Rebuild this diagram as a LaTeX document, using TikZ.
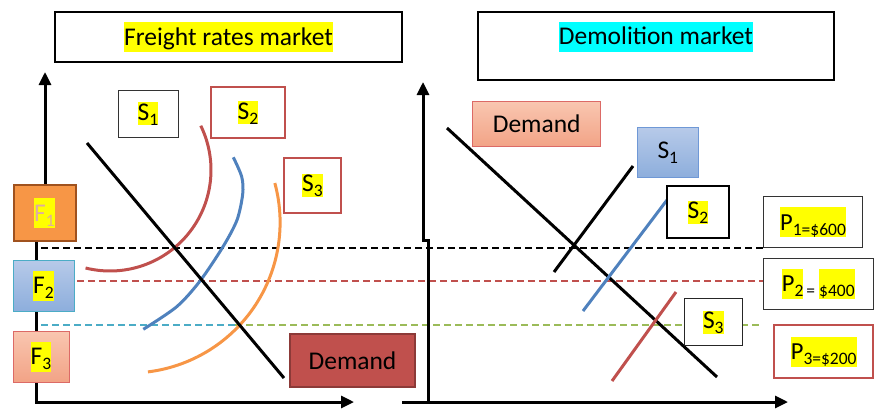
\documentclass[tikz,border=0pt]{standalone}
\usepackage{fontspec}
\setmainfont{Carlito}
\usetikzlibrary{arrows.meta}
\definecolor{redc}{HTML}{C0504D}
\definecolor{bluec}{HTML}{4F81BD}
\definecolor{orangec}{HTML}{F79646}
\definecolor{cyanc}{HTML}{4BACC6}
\definecolor{greenc}{HTML}{9BBB59}
\definecolor{hlcyan}{RGB}{0,255,255}
\definecolor{hlyellow}{RGB}{255,255,0}
\definecolor{fpale}{RGB}{222,172,162}
\definecolor{fonebrd}{HTML}{A0521E}
\definecolor{demdark}{HTML}{8C3A38}
\definecolor{salmontop}{HTML}{F9C6B0}
\definecolor{salmonbot}{HTML}{F2A386}
\definecolor{salmonbrd}{HTML}{DC6A66}
\definecolor{ltbluetop}{HTML}{B7CAE9}
\definecolor{ltbluebot}{HTML}{8DAEDC}
\definecolor{sonebrd}{HTML}{6F98D6}
\newcommand{\hl}[1]{{\setlength{\fboxsep}{0pt}\colorbox{hlyellow}{#1}}}
\newcommand{\hlc}[1]{{\setlength{\fboxsep}{0pt}\colorbox{hlcyan}{#1}}}
\newcommand{\hstrut}{\rule[-7pt]{0pt}{30pt}}
\newcommand{\sstrut}{\rule[-5pt]{0pt}{23pt}}
\newcommand{\lowsub}[1]{\raisebox{-5pt}{\fontsize{17.5}{17.5}\selectfont #1}}
\begin{document}
\begin{tikzpicture}[x=1pt,y=-1pt,
  axisline/.style={line width=3pt,-{Triangle[length=13pt,width=12pt]}},
  box/.style={draw,rectangle,inner sep=0pt,font=\fontsize{25.5}{30}\selectfont},
  pbox/.style={draw,rectangle,inner sep=0pt,font=\fontsize{24.5}{29}\selectfont},
  curve/.style={line width=3pt},
  dline/.style={line width=1.5pt,dash pattern=on 7pt off 4pt},
  tline/.style={line width=1.2pt,dash pattern=on 7pt off 4pt}]
\useasboundingbox (0,0) rectangle (875,408);

% coordinates
\coordinate (LAtop) at (45,72);
\coordinate (LAmid) at (45,186);
\coordinate (LA1) at (36,242);
\coordinate (LA2) at (36,402);
\coordinate (LA3) at (354,402);
\coordinate (RA1) at (428,402);
\coordinate (RA2) at (428,240);
\coordinate (RA3) at (423,240);
\coordinate (RAtop) at (423,82);
\coordinate (RH1) at (402,402);
\coordinate (RH2) at (788,402);

\coordinate (BK1) at (41,248);
\coordinate (BK2) at (763,248);
\coordinate (RD1) at (77,281);
\coordinate (RD2) at (763,281);
\coordinate (BL1) at (41,325);
\coordinate (BL2) at (235,325);
\coordinate (GR2) at (762,325);

\coordinate (LD1) at (87,143);
\coordinate (LD2) at (284,378);
\coordinate (RD1a) at (447,128);
\coordinate (RD2a) at (717,377);
\coordinate (RS1a) at (633,166);
\coordinate (RS1b) at (554,272);
\coordinate (RS2a) at (667,200);
\coordinate (RS2b) at (583,311);
\coordinate (RS3a) at (676,292);
\coordinate (RS3b) at (612,381);

% dashed price lines
\draw[dline,black] (BK1) -- (BK2);
\draw[dline,redc] (RD1) -- (RD2);
\draw[tline,cyanc] (BL1) -- (BL2);
\draw[tline,greenc] (BL2) -- (GR2);

% axes
\draw[axisline] (LAmid) -- (LAtop);
\draw[axisline] (LA1) -- (LA2) -- (LA3);
\draw[axisline] (RA1) -- (RA2) -- (RA3) -- (RAtop);
\draw[axisline] (RH1) -- (RH2);

% left supply curves
\draw[curve,redc,domain=-26:104,samples=60,smooth] plot ({110+101*cos(\x)},{170+101*sin(\x)});
\draw[curve,bluec] plot[smooth] coordinates {(233.3,157.3) (241.7,176.7) (242.7,194) (237,220) (223,246.7) (200,281) (176.7,306.7) (143.3,329.3)};
\draw[curve,orangec,domain=-15.2:83,samples=60,smooth] plot ({129.6+150.5*cos(\x)},{222.5+150.5*sin(\x)});

% demand lines
\draw[curve,black] (LD1) -- (LD2);
\draw[curve,black] (RD1a) -- (RD2a);
% right supply lines
\draw[curve,black] (RS1a) -- (RS1b);
\draw[curve,bluec] (RS2a) -- (RS2b);
\draw[curve,redc] (RS3a) -- (RS3b);

% titles
\node[box,line width=1.5pt,minimum width=347pt,minimum height=50pt] (t1) at (228.5,37) {\hl{\hstrut Freight rates market}};
\node[box,line width=1.5pt,minimum width=356pt,minimum height=68pt,text depth=26pt] (t2) at (656,46) {\hlc{\hstrut Demolition market}};

% F boxes
\node[box,line width=2pt,draw=fonebrd,fill=orangec,text=fpale,minimum width=62pt,minimum height=56pt] (F1) at (44.5,213) {\hl{\hstrut F\lowsub{1}}};
\node[box,line width=1pt,draw=cyanc,top color=ltbluetop,bottom color=ltbluebot,minimum width=61pt,minimum height=51pt] (F2) at (43.5,285.5) {\hl{\hstrut F\lowsub{2}}};
\node[box,line width=1pt,draw=salmonbrd,top color=salmontop,bottom color=salmonbot,minimum width=56pt,minimum height=51pt] (F3) at (41,356.5) {\hl{\hstrut F\lowsub{3}}};

% left S boxes
\node[box,line width=1pt,draw=black!80,fill=white,minimum width=60pt,minimum height=47pt] (LS1) at (148,113.5) {\hl{\sstrut S\lowsub{1}}};
\node[box,line width=1.5pt,draw=redc,fill=white,minimum width=74pt,minimum height=51pt] (LS2) at (248,112.5) {\hl{\sstrut S\lowsub{2}}\hspace{18pt}};
\node[box,line width=1.5pt,draw=redc,fill=white,minimum width=57pt,minimum height=55pt] (LS3) at (312.5,185.5) {\hl{\sstrut S\lowsub{3}}};

% left demand box
\node[box,line width=2pt,draw=demdark,fill=redc,minimum width=125pt,minimum height=53pt] (LDem) at (352.5,360.5) {Demand};

% right boxes
\node[box,line width=1.2pt,draw=salmonbrd,top color=salmontop,bottom color=salmonbot,minimum width=128pt,minimum height=45pt] (RDem) at (536.7,124.2) {Demand};
\node[box,line width=1pt,draw=sonebrd,top color=ltbluetop,bottom color=ltbluebot,minimum width=61pt,minimum height=50pt] (RS1) at (667.8,152.3) {S\lowsub{1}};
\node[box,line width=2.5pt,draw=black,fill=white,minimum width=62pt,minimum height=52pt] (RS2) at (698,212) {\hl{\sstrut S\lowsub{2}}};
\node[box,line width=1pt,draw=black!85,fill=white,minimum width=58pt,minimum height=47pt] (RS3) at (713.3,322.2) {\hl{\sstrut S\lowsub{3}}};

% price boxes
\node[pbox,line width=1pt,draw=black!80,fill=white,minimum width=99pt,minimum height=51pt] (P1) at (813,222.2) {\hl{\hstrut P\lowsub{1=\$600}}};
\node[pbox,line width=1pt,draw=black!80,fill=white,minimum width=110pt,minimum height=51pt] (P2) at (818.3,283.8) {\hl{\hstrut P\lowsub{2}}\hspace{3pt}\lowsub{=}\hspace{4pt}\hl{\hstrut\lowsub{\$400}}};
\node[pbox,line width=2pt,draw=redc,fill=white,minimum width=99pt,minimum height=53pt] (P3) at (823.7,351.7) {\hl{\hstrut P\lowsub{3=\$200}}};
\end{tikzpicture}
\end{document}
